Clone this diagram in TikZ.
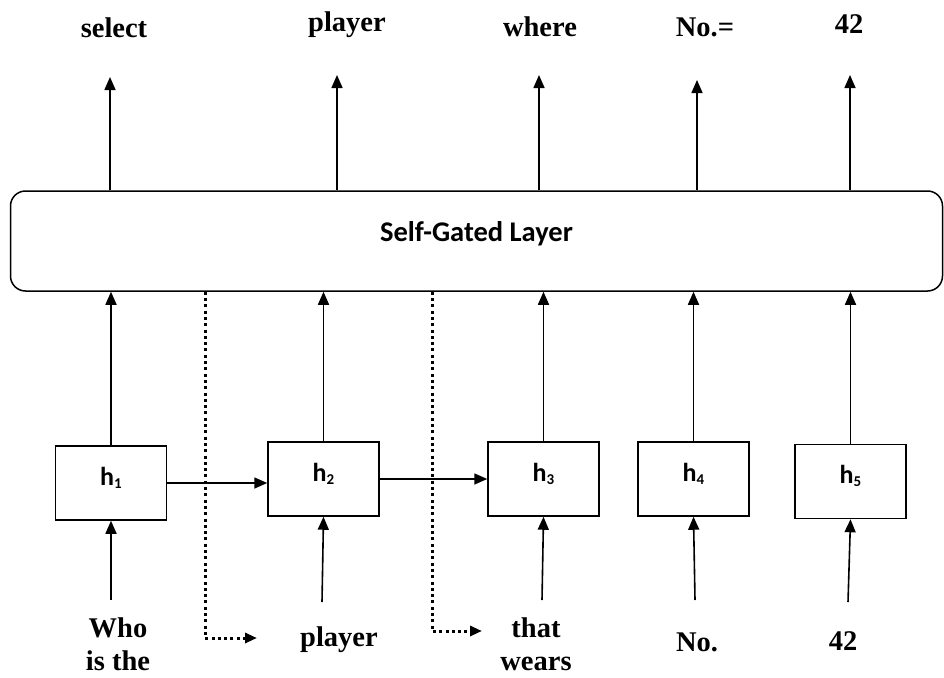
\documentclass[tikz,border=0pt]{standalone}
\usepackage{fontspec}
\setmainfont{Liberation Serif}
\newfontfamily\calfont{Carlito}
\usetikzlibrary{arrows.meta}

\newcommand{\hsub}[1]{{\fontsize{15}{15}\selectfont\raisebox{-3pt}{#1}}}

\begin{document}
\begin{tikzpicture}[
                x=1pt, y=-1pt,
                hbox/.style={draw, line width=1.5pt, minimum width=111pt, minimum height=74pt, inner sep=0pt,
                    font=\calfont\bfseries\fontsize{26}{28}\selectfont, text height=18pt, text depth=14pt},
                layerbox/.style={draw, line width=1.5pt, rounded corners=15pt, minimum width=932pt, minimum height=100pt,
                    inner sep=0pt, font=\calfont\bfseries\fontsize{28.5}{30}\selectfont, text height=20pt, text depth=20pt},
                word/.style={font=\bfseries\fontsize{28.5}{33}\selectfont, align=center, inner sep=0pt},
                arr/.style={-{Triangle[length=13pt, width=11pt]}, line width=1.6pt},
                dotarr/.style={-{Triangle[length=12pt, width=10pt]}, line width=3pt, dash pattern=on 3pt off 3.3pt}
            ]
            \useasboundingbox (0,0) rectangle (944,677);

            % Self-gated layer
            \node[layerbox] (layer) at (476.5,241) {Self-Gated Layer};

            % Hidden states
            \node[hbox] (h1) at (111,483) {h\hsub{1}};
            \node[hbox] (h2) at (323.5,479) {h\hsub{2}};
            \node[hbox] (h3) at (543.5,479) {h\hsub{3}};
            \node[hbox] (h4) at (693.5,479) {h\hsub{4}};
            \node[hbox] (h5) at (850.5,481.5) {h\hsub{5}};

            % Input words
            \node[word] (in1) at (118,644) {Who\\is the};
            \node[word] (in2) at (339,640) {player};
            \node[word] (in3) at (536,644) {that\\wears};
            \node[word] (in4) at (697,642) {No.};
            \node[word] (in5) at (843,641) {42};

            % Output words
            \node[word] (out1) at (114,28) {select};
            \node[word] (out2) at (347,25) {player};
            \node[word] (out3) at (540,27) {where};
            \node[word] (out4) at (705,27) {No.=};
            \node[word] (out5) at (849,24) {42};

            % Arrow tails and tips
            \coordinate (b1) at (111,600);
            \coordinate (b2) at (322,602);
            \coordinate (b3) at (542,600);
            \coordinate (b4) at (695,600);
            \coordinate (b5) at (848,602);
            \coordinate (t1) at (110,77);
            \coordinate (t2) at (337,75);
            \coordinate (t3) at (539,75);
            \coordinate (t4) at (697,80);
            \coordinate (t5) at (850,75);
            \coordinate (d1) at (205,638);
            \coordinate (e1) at (257,638);
            \coordinate (d2) at (432,631);
            \coordinate (e2) at (482,631);

            % Words into hidden states
            \draw[arr] (b1) -- (h1.south);
            \draw[arr] (b2) -- (h2.south);
            \draw[arr] (b3) -- (h3.south);
            \draw[arr] (b4) -- (h4.south);
            \draw[arr] (b5) -- (h5.south);

            % Recurrent links
            \draw[arr] (h1.east) -- (h1.east -| h2.west);
            \draw[arr] (h2.east) -- (h2.east -| h3.west);

            % Hidden states into layer
            \draw[arr] (h1.north) -- (h1.north |- layer.south);
            \draw[arr] (h2.north) -- (h2.north |- layer.south);
            \draw[arr] (h3.north) -- (h3.north |- layer.south);
            \draw[arr] (h4.north) -- (h4.north |- layer.south);
            \draw[arr] (h5.north) -- (h5.north |- layer.south);

            % Layer outputs
            \draw[arr] (t1 |- layer.north) -- (t1);
            \draw[arr] (t2 |- layer.north) -- (t2);
            \draw[arr] (t3 |- layer.north) -- (t3);
            \draw[arr] (t4 |- layer.north) -- (t4);
            \draw[arr] (t5 |- layer.north) -- (t5);

            % Dotted skips
            \draw[dotarr] (d1 |- layer.south) -- (d1) -- (e1);
            \draw[dotarr] (d2 |- layer.south) -- (d2) -- (e2);

        \end{tikzpicture}
\end{document}
